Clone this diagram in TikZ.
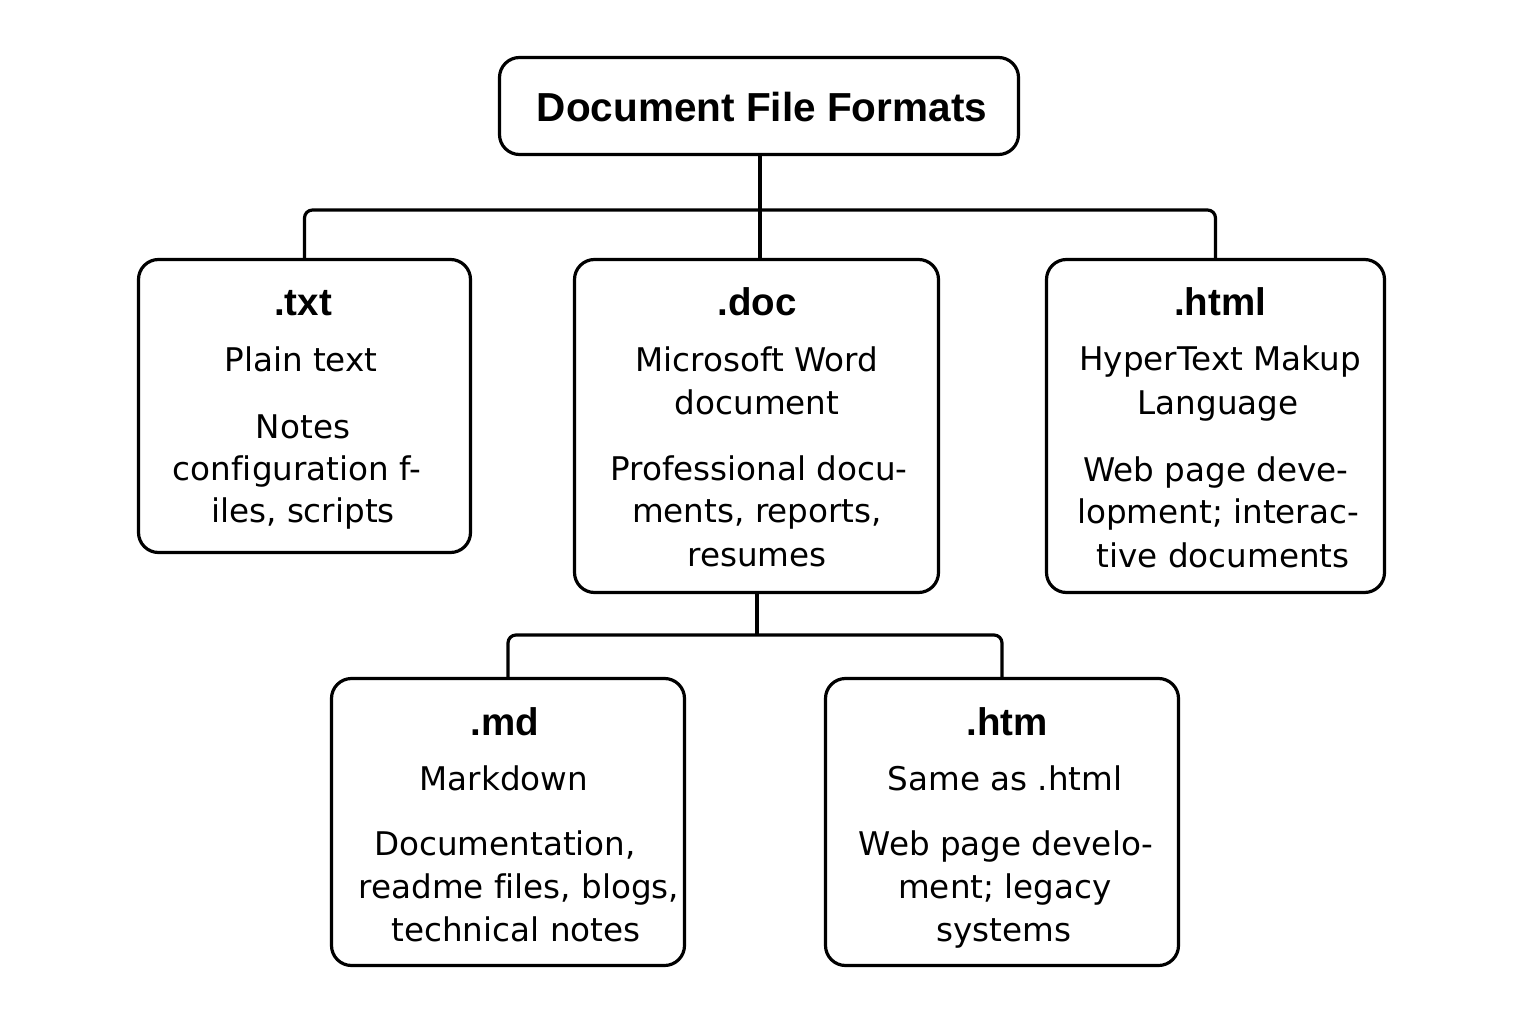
\documentclass[tikz,border=0pt]{standalone}
\usepackage{fontspec}
\setmainfont{DejaVu Sans}[Ligatures=CommonOff]
\newfontfamily\headfont{Liberation Sans}
\begin{document}
\begin{tikzpicture}[x=1pt,y=-1pt,
  box/.style={draw=black, line width=3.2pt, rounded corners=20pt, fill=white, inner sep=0pt},
  conn/.style={draw=black, line width=3.2pt, rounded corners=8pt},
  ttltext/.style={anchor=base, inner sep=0pt, font=\headfont\bfseries\fontsize{40.5}{40}\selectfont},
  head/.style={anchor=base, inner sep=0pt, font=\headfont\bfseries\fontsize{38.5}{38}\selectfont},
  body/.style={anchor=base, inner sep=0pt, font=\fontsize{32.6}{40}\selectfont}]
\useasboundingbox[fill=white] (0,0) rectangle (1536,1024);

% boxes
\node[box, minimum width=519pt, minimum height=97pt] (title) at (759,106) {};
\node[box, minimum width=332pt, minimum height=293pt] (txt) at (304.5,406) {};
\node[box, minimum width=364pt, minimum height=333pt] (doc) at (756.5,426) {};
\node[box, minimum width=338pt, minimum height=333pt] (html) at (1215.5,426) {};
\node[box, minimum width=353pt, minimum height=287pt] (md) at (508,822) {};
\node[box, minimum width=353pt, minimum height=287pt] (htm) at (1002,822) {};

% connectors
\coordinate (bus1) at (760,210);
\coordinate (bus2) at (757,635);
\draw[conn] (title.south -| bus1) -- (doc.north -| bus1);
\draw[conn] (txt.north) |- (bus1) -| (html.north);
\draw[conn] (doc.south -| bus2) -- (bus2);
\draw[conn] (md.north) |- (bus2) -| (htm.north);

% title
\node[ttltext] (ttl) at (762,122) {Document File Formats};

% .txt
\node[head] (txth) at (303,316) {.txt};
\node[body] (txt1) at (301,371) {Plain text};
\node[body] (txt2) at (303,438) {Notes};
\node[body] (txt3) at (297,480) {configuration f-};
\node[body] (txt4) at (303,522) {iles, scripts};

% .doc
\node[head] (doch) at (757,316) {.doc};
\node[body] (doc1) at (757,371) {Microsoft Word};
\node[body] (doc2) at (757,414) {document};
\node[body] (doc3) at (759,480) {Professional docu-};
\node[body] (doc4) at (757,522) {ments, reports,};
\node[body] (doc5) at (757,566) {resumes};

% .html
\node[head] (htmlh) at (1220,315) {.html};
\node[body] (html1) at (1220,370) {HyperText Makup};
\node[body] (html2) at (1218,414) {Language};
\node[body] (html3) at (1216,481) {Web page deve-};
\node[body] (html4) at (1218,523) {lopment; interac-};
\node[body] (html5) at (1223,567) {tive documents};

% .md
\node[head] (mdh) at (505,735) {.md};
\node[body] (md1) at (504,790) {Markdown};
\node[body] (md2) at (505,855) {Documentation,};
\node[body] (md3) at (519,898) {readme files, blogs,};
\node[body] (md4) at (516,941) {technical notes};

% .htm
\node[head] (htmh) at (1007,735) {.htm};
\node[body] (htm1) at (1005,790) {Same as .html};
\node[body] (htm2) at (1006,855) {Web page develo-};
\node[body] (htm3) at (1005,898) {ment; legacy};
\node[body] (htm4) at (1004,941) {systems};
\end{tikzpicture}
\end{document}
